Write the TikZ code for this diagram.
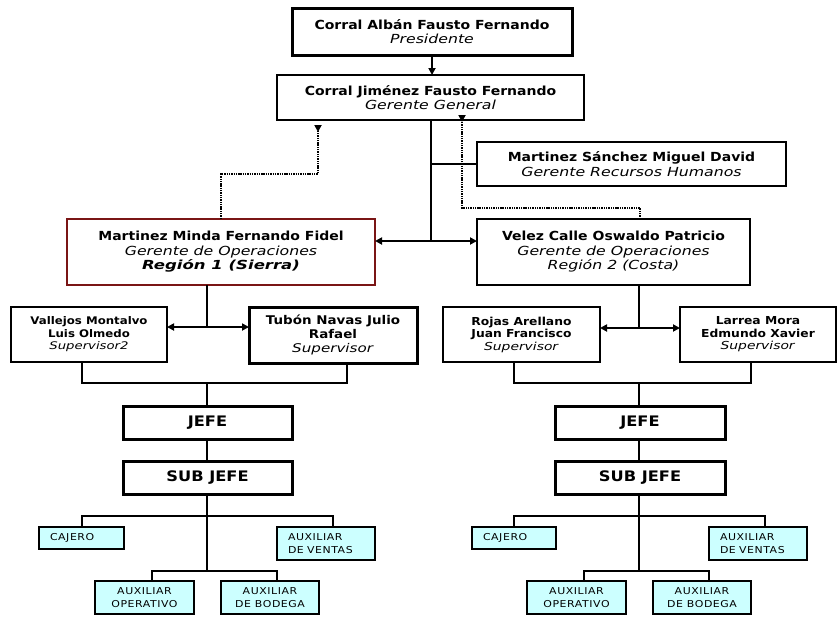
\documentclass[tikz,border=0pt]{standalone}
\usepackage{fontspec}
\setmainfont{DejaVu Sans}[FakeStretch=1.12,
  ItalicFeatures={FakeStretch=1.26},
  BoldItalicFeatures={FakeStretch=1.32}]
\newfontfamily\staffont{DejaVu Sans}[FakeStretch=1.15,LetterSpace=6]
\usetikzlibrary{arrows.meta}
\definecolor{regionred}{HTML}{7A1515}
\definecolor{staffcyan}{HTML}{CCFFFF}
\begin{document}
\begin{tikzpicture}[x=1pt,y=-1pt,
  box/.style={draw, line width=2.2pt, inner sep=0pt, outer sep=0pt, align=center,
              font=\fontsize{12.5}{14.5}\selectfont},
  supbox/.style={box, font=\fontsize{11}{12.5}\selectfont},
  bossbox/.style={box, line width=3pt, font=\fontsize{14.5}{16}\selectfont\bfseries},
  staffbox/.style={draw, line width=2pt, fill=staffcyan, inner sep=0pt, outer sep=0pt,
              align=center, font=\staffont\fontsize{9.5}{12.5}\selectfont},
  staffleft/.style={staffbox, align=left, inner xsep=11pt, text width=#1},
  conn/.style={line width=2pt},
  tip/.style={-{Triangle[length=7pt,width=7pt]}},
  dots/.style={line width=2.6pt, dash pattern=on 1.4pt off 0.9pt},
]
\useasboundingbox (0,0) rectangle (838,616);

% --- management ---
\node[box, line width=3pt, minimum width=280pt, minimum height=47pt] (pres) at (432,31.5)
  {\textbf{Corral Albán Fausto Fernando}\\\textit{Presidente}};
\node[box, line width=2pt, minimum width=307pt, minimum height=45pt] (gg) at (430.5,97.5)
  {\textbf{Corral Jiménez Fausto Fernando}\\\textit{Gerente General}};
\node[box, minimum width=309pt, minimum height=44pt] (rrhh) at (631.5,164)
  {\textbf{Martinez Sánchez Miguel David}\\\textit{Gerente Recursos Humanos}};
\node[box, draw=regionred, line width=2pt, minimum width=308pt, minimum height=66pt] (minda) at (221,252)
  {\textbf{Martinez Minda Fernando Fidel}\\\textit{Gerente de Operaciones}\\\textbf{\textit{Región 1 (Sierra)}}};
\node[box, line width=2.5pt, minimum width=273pt, minimum height=66pt] (velez) at (613.5,252)
  {\textbf{Velez Calle Oswaldo Patricio}\\\textit{Gerente de Operaciones}\\\textit{Región 2 (Costa)}};

% --- supervisors ---
\node[supbox, line width=2pt, font=\fontsize{10.5}{12.5}\selectfont, minimum width=156pt, minimum height=55pt] (vall) at (89,334.5)
  {\textbf{Vallejos Montalvo}\\\textbf{Luis Olmedo}\\\textit{Supervisor2}};
\node[supbox, line width=3pt, font=\fontsize{12}{14}\selectfont, minimum width=168pt, minimum height=56pt] (tubon) at (333,335)
  {\textbf{Tubón Navas Julio}\\\textbf{Rafael}\\\textit{Supervisor}};
\node[supbox, line width=2.5pt, minimum width=157pt, minimum height=55pt] (rojas) at (521.5,334.5)
  {\textbf{Rojas Arellano}\\\textbf{Juan Francisco}\\\textit{Supervisor}};
\node[supbox, line width=2.5pt, minimum width=156pt, minimum height=55pt] (larrea) at (758,334.5)
  {\textbf{Larrea Mora}\\\textbf{Edmundo Xavier}\\\textit{Supervisor}};

% --- chiefs ---
\node[bossbox, minimum width=169pt, minimum height=33pt] (jefeL) at (207.5,422.5) {JEFE};
\node[bossbox, minimum width=169pt, minimum height=33pt] (subL) at (207.5,477.5) {SUB JEFE};
\node[bossbox, minimum width=170pt, minimum height=33pt] (jefeR) at (640,422.5) {JEFE};
\node[bossbox, minimum width=170pt, minimum height=33pt] (subR) at (640,477.5) {SUB JEFE};

% --- staff ---
\node[staffleft=63pt, minimum width=85pt, minimum height=22pt] (cajL) at (81.5,538) {CAJERO};
\node[staffleft=76pt, minimum width=98pt, minimum height=33pt] (ventL) at (326,543.5) {AUXILIAR\\DE VENTAS};
\node[staffbox, minimum width=99pt, minimum height=33pt] (opL) at (144.5,597.5) {AUXILIAR\\OPERATIVO};
\node[staffbox, minimum width=98pt, minimum height=33pt] (bodL) at (270,597.5) {AUXILIAR\\DE BODEGA};
\node[staffleft=62pt, minimum width=84pt, minimum height=22pt] (cajR) at (514,538) {CAJERO};
\node[staffleft=76pt, minimum width=98pt, minimum height=33pt] (ventR) at (758,543.5) {AUXILIAR\\DE VENTAS};
\node[staffbox, minimum width=99pt, minimum height=33pt] (opR) at (576.5,597.5) {AUXILIAR\\OPERATIVO};
\node[staffbox, minimum width=98pt, minimum height=33pt] (bodR) at (702,597.5) {AUXILIAR\\DE BODEGA};

% --- junction points ---
\coordinate (gj) at (431,241);
\coordinate (mj) at (207,327);
\coordinate (vj) at (639,328);
\coordinate (ml) at (207,383);
\coordinate (mr) at (639,383);
\coordinate (sl1) at (207,516);
\coordinate (sl2) at (207,571);
\coordinate (sr1) at (639,516);
\coordinate (sr2) at (639,571);
\coordinate (dlk) at (318,174);
\coordinate (dl) at (318,132);
\coordinate (drk) at (462,208);
\coordinate (dr) at (462,122);

% --- solid reporting lines ---
\draw[conn, tip] (pres.south) -- (pres.south |- gg.north);
\draw[conn] (gj |- gg.south) -- (gj);
\draw[conn] (gj |- rrhh.west) -- (rrhh.west);
\draw[conn, tip] (gj) -- (gj -| minda.east);
\draw[conn, tip] (gj) -- (gj -| velez.west);

\draw[conn] (mj |- minda.south) -- (mj);
\draw[conn, tip] (mj) -- (mj -| vall.east);
\draw[conn, tip] (mj) -- (mj -| tubon.west);
\draw[conn] (vj |- velez.south) -- (vj);
\draw[conn, tip] (vj) -- (vj -| rojas.east);
\draw[conn, tip] (vj) -- (vj -| larrea.west);

\draw[conn] ([xshift=-7pt]vall.south) |- (ml) -| ([xshift=14pt]tubon.south);
\draw[conn] (ml) -- (ml |- jefeL.north);
\draw[conn] ([xshift=-7.5pt]rojas.south) |- (mr) -| ([xshift=-7pt]larrea.south);
\draw[conn] (mr) -- (mr |- jefeR.north);

\draw[conn] (sl1 |- jefeL.south) -- (sl1 |- subL.north);
\draw[conn] (sr1 |- jefeR.south) -- (sr1 |- subR.north);

\draw[conn] (sl1 |- subL.south) -- (sl2);
\draw[conn] (cajL.north) |- (sl1) -| ([xshift=7pt]ventL.north);
\draw[conn] ([xshift=7.5pt]opL.north) |- (sl2) -| ([xshift=7pt]bodL.north);
\draw[conn] (sr1 |- subR.south) -- (sr2);
\draw[conn] (cajR.north) |- (sr1) -| ([xshift=7pt]ventR.north);
\draw[conn] ([xshift=7.5pt]opR.north) |- (sr2) -| ([xshift=7pt]bodR.north);

% --- dotted functional lines ---
\draw[dots] (minda.north) |- (dlk) -- ([yshift=6pt]dl);
\draw[line width=2pt, tip] ([yshift=7pt]dl) -- (dl);
\draw[dots] ([xshift=26.5pt]velez.north) |- (drk) -- ([yshift=6pt]dr);
\draw[line width=2pt, tip] ([yshift=7pt]dr) -- (dr);
\end{tikzpicture}
\end{document}
